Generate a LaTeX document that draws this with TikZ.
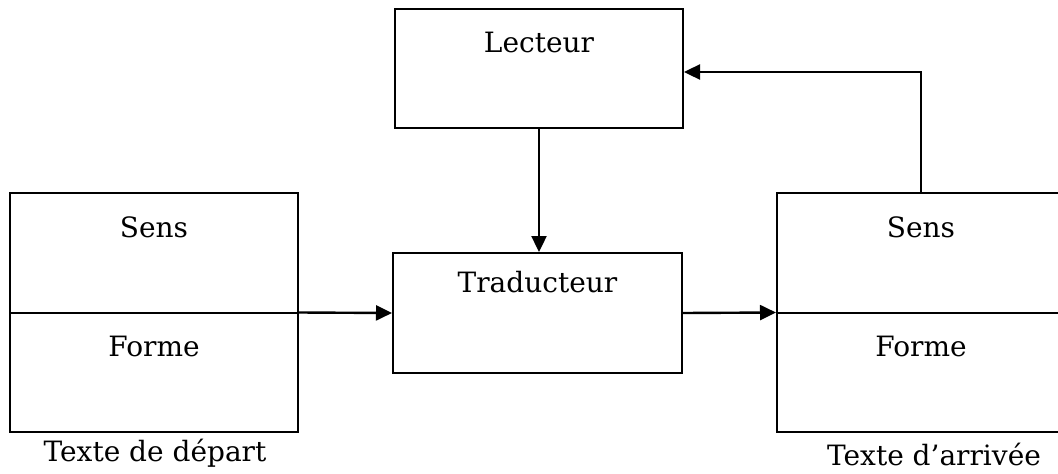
\documentclass[tikz,border=0pt]{standalone}
\usepackage{xcolor}
\usepackage{tikz}
\usepackage{fontspec}
\setmainfont{DejaVu Serif}
\usetikzlibrary{arrows.meta}

\tikzset{
  boite/.style={draw, line width=2pt, inner sep=0pt},
  titre/.style={anchor=north, yshift=-24pt, inner sep=0pt},
  fleche/.style={line width=2.4pt, -{Triangle[length=16pt, width=15pt]}}
}

\begin{document}
\begin{tikzpicture}[x=1pt, y=-1pt, font=\fontsize{28}{34}\selectfont]
    \clip (0,0) rectangle (1058,474);
    % Lecteur en haut
    \node[boite, minimum width=288pt, minimum height=119pt, label={[titre]north:Lecteur}] (lect) at (539,68.5) {};
    % Traducteur au milieu
    \node[boite, minimum width=289pt, minimum height=120pt, label={[titre, yshift=5pt]north:Traducteur}] (trad) at (537.5,313) {};
    % Texte de départ : sens et forme
    \node[boite, minimum width=288pt, minimum height=239pt, label={[titre, yshift=-1pt]north:Sens}, label={[titre, yshift=-10pt]center:Forme}] (gauche) at (154,312.5) {};
    \draw[line width=2pt] (gauche.west) -- (gauche.east);
    % Texte d'arrivée : sens et forme
    \node[boite, minimum width=288pt, minimum height=239pt, label={[titre, yshift=-1pt]north:Sens}, label={[titre, yshift=-10pt]center:Forme}] (droite) at (921,312.5) {};
    \draw[line width=2pt] (droite.west) -- (droite.east);
    % Légendes sous les boîtes
    \node[anchor=base] (depart) at (155,461) {Texte de départ};
    \node[anchor=base] (arrivee) at (934,465) {Texte d’arrivée};
    % Flèches
    \draw[fleche] (gauche.east) -- (trad.west);
    \draw[fleche] (trad.east) -- (droite.west);
    \draw[fleche] (lect.south) -- (lect.south |- trad.north);
    \draw[fleche] (droite.north) |- ([yshift=-3.5pt]lect.east);
\end{tikzpicture}
\end{document}
